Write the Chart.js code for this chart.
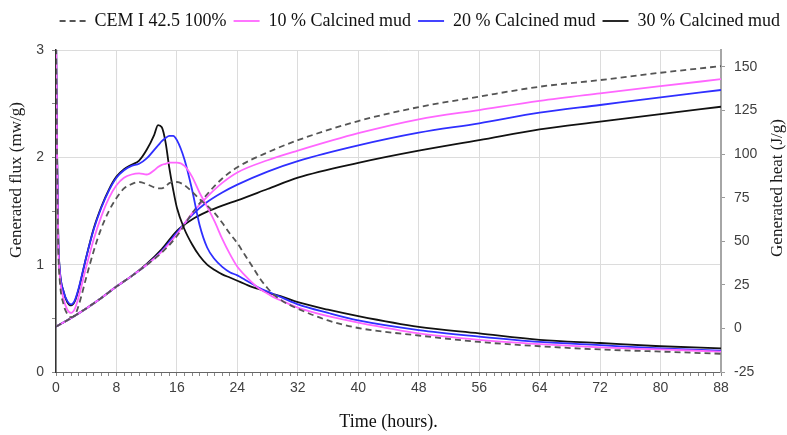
<!DOCTYPE html>
<html>
<head>
<meta charset="utf-8">
<script src="https://cdn.jsdelivr.net/npm/chart.js@4.4.1/dist/chart.umd.min.js"></script>
<style>
    html, body { margin: 0; padding: 0; background: #fff; }
    #wrap { width: 787px; height: 435px; }
</style>
</head>
<body>
<div id="wrap"><canvas id="calorimetryChart" width="787" height="435"></canvas></div>
<script>
const seriesNames = ['CEM I 42.5 100%', '10 % Calcined mud', '20 % Calcined mud', '30 % Calcined mud'];

// flux (mW/g), left axis
const fluxTime = [0, 0.15, 0.3, 0.5, 1, 1.5, 2, 2.5, 3, 4, 5, 6, 7, 8, 9, 10, 11, 12, 13, 13.5, 14, 14.5, 15, 15.5, 16, 17, 18, 19, 20, 21, 22, 23, 24, 25, 26, 27, 28, 29, 30, 32, 36, 40, 48, 56, 64, 72, 80, 88];
const fluxCem = [3.2, 1.9, 1.15, 0.85, 0.63, 0.54, 0.51, 0.53, 0.62, 0.88, 1.13, 1.34, 1.5, 1.62, 1.71, 1.75, 1.77, 1.75, 1.72, 1.71, 1.71, 1.73, 1.76, 1.77, 1.77, 1.74, 1.68, 1.61, 1.55, 1.48, 1.39, 1.29, 1.2, 1.09, 0.98, 0.87, 0.78, 0.71, 0.66, 0.59, 0.48, 0.41, 0.34, 0.28, 0.24, 0.21, 0.19, 0.17];
const flux10 = [3.2, 1.95, 1.2, 0.9, 0.68, 0.58, 0.55, 0.59, 0.7, 0.98, 1.24, 1.45, 1.62, 1.74, 1.81, 1.84, 1.85, 1.84, 1.88, 1.91, 1.93, 1.94, 1.95, 1.95, 1.95, 1.92, 1.82, 1.67, 1.54, 1.4, 1.24, 1.1, 0.98, 0.9, 0.83, 0.77, 0.73, 0.69, 0.66, 0.6, 0.52, 0.46, 0.36, 0.3, 0.26, 0.23, 0.21, 0.19];
const flux20 = [3.2, 2.0, 1.25, 0.95, 0.75, 0.66, 0.63, 0.67, 0.78, 1.07, 1.33, 1.53, 1.69, 1.81, 1.88, 1.92, 1.94, 1.99, 2.07, 2.11, 2.15, 2.18, 2.2, 2.2, 2.16, 1.98, 1.7, 1.37, 1.16, 1.05, 0.98, 0.93, 0.9, 0.86, 0.82, 0.78, 0.75, 0.72, 0.69, 0.63, 0.55, 0.48, 0.39, 0.33, 0.28, 0.25, 0.22, 0.2];
const flux30 = [3.2, 2.0, 1.25, 0.95, 0.75, 0.65, 0.62, 0.66, 0.77, 1.07, 1.34, 1.54, 1.7, 1.82, 1.89, 1.93, 1.97, 2.07, 2.21, 2.3, 2.28, 2.14, 1.9, 1.7, 1.53, 1.33, 1.19, 1.08, 1.0, 0.95, 0.91, 0.88, 0.85, 0.82, 0.79, 0.77, 0.74, 0.72, 0.7, 0.65, 0.58, 0.52, 0.42, 0.36, 0.3, 0.27, 0.24, 0.22];

// cumulative heat (J/g), right axis
const heatTime = [0, 2, 4, 6, 8, 10, 12, 14, 16, 18, 20, 22, 24, 28, 32, 40, 48, 56, 64, 72, 80, 88];
const heatCem = [1, 6, 11.5, 17.5, 24, 30, 36.5, 43.5, 53, 66, 77, 86, 92.5, 101, 108, 119, 127, 133, 138.7, 142.5, 146.7, 150.5];
const heat10 = [1, 6, 11.5, 17.5, 24, 30, 36.5, 44, 54, 66, 75.5, 83.5, 89.5, 96.5, 102, 112, 120, 125.3, 130.6, 134.9, 139, 143];
const heat20 = [1, 6, 11.5, 17.5, 24, 30, 36.5, 44.5, 55, 65, 72.5, 78, 82.5, 90, 96, 105, 112.3, 117.7, 123.8, 128.2, 132.6, 136.8];
const heat30 = [1, 6, 11.5, 17.5, 24, 30, 37, 45.5, 56, 62.5, 67, 70.5, 73.5, 80, 86.5, 95, 102, 108, 114.2, 118.6, 123, 127.2];

const timeTicks = [0, 8, 16, 24, 32, 40, 48, 56, 64, 72, 80, 88];
const fluxTicks = [0, 1, 2, 3];
const heatTicks = [-25, 0, 25, 50, 75, 100, 125, 150];

const xTitle = 'Time (hours).';
const fluxTitle = 'Generated flux (mw/g)';
const heatTitle = 'Generated heat (J/g)';

const styles = [
    { color: '#555555', dash: [6, 4] },
    { color: '#ff66ff', dash: [] },
    { color: '#2f2fff', dash: [] },
    { color: '#111111', dash: [] }
];

const toPoints = (xs, ys) => xs.map((x, i) => ({ x: x, y: ys[i] }));

const fluxSeries = [fluxCem, flux10, flux20, flux30];
const heatSeries = [heatCem, heat10, heat20, heat30];

const datasets = [];
fluxSeries.forEach((ys, i) => {
    datasets.push({
        label: seriesNames[i],
        data: toPoints(fluxTime, ys),
        yAxisID: 'y',
        borderColor: styles[i].color,
        backgroundColor: styles[i].color,
        borderDash: styles[i].dash,
        borderWidth: 1.8,
        pointRadius: 0,
        cubicInterpolationMode: 'monotone'
    });
});
heatSeries.forEach((ys, i) => {
    datasets.push({
        label: seriesNames[i] + ' heat',
        data: toPoints(heatTime, ys),
        yAxisID: 'y2',
        borderColor: styles[i].color,
        backgroundColor: styles[i].color,
        borderDash: styles[i].dash,
        borderWidth: 1.8,
        pointRadius: 0,
        cubicInterpolationMode: 'monotone'
    });
});

// fixed legend band height
const legendBand = {
    id: 'legendBand',
    beforeInit(chart) {
        const fit = chart.legend.fit;
        chart.legend.fit = function () {
            fit.call(this);
            this.height = 45;
        };
    }
};

// vertical axis titles, both read bottom to top
const sideTitles = {
    id: 'sideTitles',
    afterDraw(chart) {
        const ctx = chart.ctx;
        [[fluxTitle, 17, 180], [heatTitle, 778, 188]].forEach(([text, x, y]) => {
            ctx.save();
            ctx.fillStyle = '#1a1a1a';
            ctx.font = '17px "Liberation Serif", "Times New Roman", serif';
            ctx.textAlign = 'center';
            ctx.textBaseline = 'middle';
            ctx.translate(x, y);
            ctx.rotate(-Math.PI / 2);
            ctx.fillText(text, 0, 0);
            ctx.restore();
        });
    }
};

const tickFont = { family: '"Liberation Sans", Arial, sans-serif', size: 14 };

new Chart(document.getElementById('calorimetryChart').getContext('2d'), {
    type: 'line',
    data: { datasets: datasets },
    plugins: [legendBand, sideTitles],
    options: {
        responsive: false,
        animation: false,
        devicePixelRatio: 1,
        layout: { padding: { top: 5, left: 0, right: 0, bottom: 0 } },
        plugins: {
            tooltip: { enabled: false },
            legend: {
                position: 'top',
                align: 'end',
                labels: {
                    filter: item => item.datasetIndex < 4,
                    usePointStyle: true,
                    pointStyle: 'line',
                    pointStyleWidth: 26,
                    padding: 7,
                    color: '#111',
                    font: { family: '"Liberation Serif", "Times New Roman", serif', size: 18 },
                    generateLabels: chart => {
                        const items = Chart.defaults.plugins.legend.labels.generateLabels(chart);
                        items.forEach(item => {
                            const ds = chart.data.datasets[item.datasetIndex];
                            item.lineDash = ds.borderDash;
                            item.lineWidth = ds.borderWidth;
                            item.strokeStyle = ds.borderColor;
                        });
                        return items;
                    }
                }
            }
        },
        scales: {
            x: {
                type: 'linear',
                min: 0,
                max: 88,
                afterBuildTicks: axis => {
                    const t = [];
                    for (let v = 0; v <= 88; v++) t.push({ value: v });
                    axis.ticks = t;
                },
                afterFit: axis => { axis.height = 63; },
                ticks: {
                    autoSkip: false,
                    maxRotation: 0,
                    padding: 4,
                    color: '#404040',
                    font: tickFont,
                    callback: v => timeTicks.includes(v) ? String(v) : ''
                },
                grid: {
                    color: c => (c.tick && timeTicks.includes(c.tick.value)) ? '#dcdcdc' : 'rgba(0,0,0,0)',
                    tickColor: '#888',
                    tickLength: 4
                },
                border: { color: '#666', width: 1 },
                title: {
                    display: true,
                    text: xTitle,
                    color: '#111',
                    padding: { top: 0, bottom: 2 },
                    font: { family: '"Liberation Serif", "Times New Roman", serif', size: 18 }
                }
            },
            y: {
                position: 'left',
                min: 0,
                max: 3,
                afterBuildTicks: axis => {
                    const t = [];
                    for (let v = 0; v <= 3; v += 0.5) t.push({ value: v });
                    axis.ticks = t;
                },
                afterFit: axis => { axis.width = 56; },
                ticks: {
                    autoSkip: false,
                    padding: 8,
                    color: '#404040',
                    font: tickFont,
                    callback: v => fluxTicks.includes(v) ? String(v) : ''
                },
                grid: {
                    color: c => (c.tick && fluxTicks.includes(c.tick.value)) ? '#dcdcdc' : 'rgba(0,0,0,0)',
                    tickColor: '#888',
                    tickLength: 4
                },
                border: { color: '#333', width: 1.5 }
            },
            y2: {
                position: 'right',
                min: -25,
                max: 159.75,
                afterBuildTicks: axis => {
                    axis.ticks = heatTicks.map(v => ({ value: v }));
                },
                afterFit: axis => { axis.width = 66; },
                ticks: {
                    autoSkip: false,
                    padding: 9,
                    color: '#404040',
                    font: tickFont
                },
                grid: {
                    drawOnChartArea: false,
                    tickColor: '#999',
                    tickLength: 4
                },
                border: { color: '#a6a6a6', width: 2 }
            }
        }
    }
});
</script>
</body>
</html>
